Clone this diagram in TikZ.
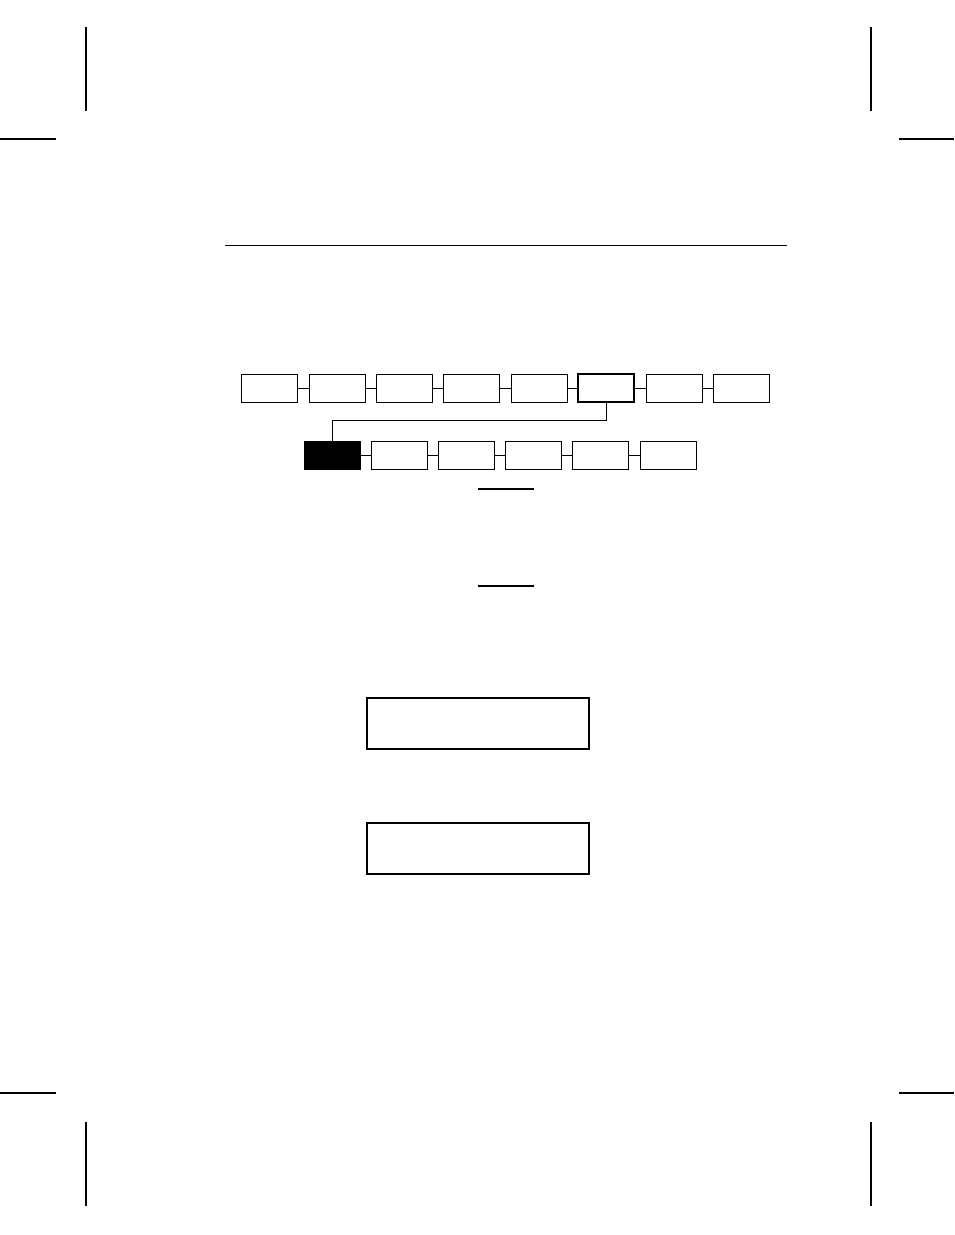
\documentclass[tikz,border=0pt]{standalone}
\usetikzlibrary{positioning}
\tikzset{
  menubox/.style={draw, rectangle, inner sep=0pt, minimum width=56pt, minimum height=28pt, line width=1pt},
  curbox/.style={menubox, line width=2.6pt},
  selbox/.style={menubox, fill=black},
  dispbox/.style={draw, rectangle, inner sep=0pt, minimum width=222pt, minimum height=51pt, line width=2pt},
  cropmark/.style={line width=1.4pt}
}
\begin{document}
\begin{tikzpicture}[x=1pt,y=-1pt]
  \useasboundingbox (0,0) rectangle (954,1235);
  % crop marks
  \draw[cropmark] (86,27) -- (86,111) (0,139) -- (56,139);
  \draw[cropmark] (871,27) -- (871,111) (899,139) -- (954,139);
  \draw[cropmark] (86,1122) -- (86,1206) (0,1093) -- (56,1093);
  \draw[cropmark] (871,1122) -- (871,1206) (899,1093) -- (954,1093);
  % header rule
  \draw[line width=1pt] (225,245) -- (787,245);
  % menu rows
  \draw
    (269,388) node[menubox] (t1){}
    (337,388) node[menubox] (t2){}
    (404,388) node[menubox] (t3){}
    (471,388) node[menubox] (t4){}
    (539,388) node[menubox] (t5){}
    (606,388) node[curbox] (t6){}
    (674,388) node[menubox] (t7){}
    (741,388) node[menubox] (t8){};
  \draw
    (332,455) node[selbox] (b1){}
    (399,455) node[menubox] (b2){}
    (466,455) node[menubox] (b3){}
    (533,455) node[menubox] (b4){}
    (600,455) node[menubox] (b5){}
    (668,455) node[menubox] (b6){};
  \begin{scope}[-, line width=1pt]
    \draw (t1) to (t2);
    \draw (t2) to (t3);
    \draw (t3) to (t4);
    \draw (t4) to (t5);
    \draw (t5) to (t6);
    \draw (t6) to (t7);
    \draw (t7) to (t8);
    \draw (b1) to (b2);
    \draw (b2) to (b3);
    \draw (b3) to (b4);
    \draw (b4) to (b5);
    \draw (b5) to (b6);
    \draw (t6.south) -- ++(0,17) -| (b1.north);
  \end{scope}
  % short rules
  \draw[line width=1.2pt] (478,489) -- (534,489);
  \draw[line width=1.2pt] (478,586) -- (534,586);
  % display boxes
  \node[dispbox] (d1) at (478,723.5) {};
  \node[dispbox] (d2) at (478,848.5) {};
\end{tikzpicture}
\end{document}
